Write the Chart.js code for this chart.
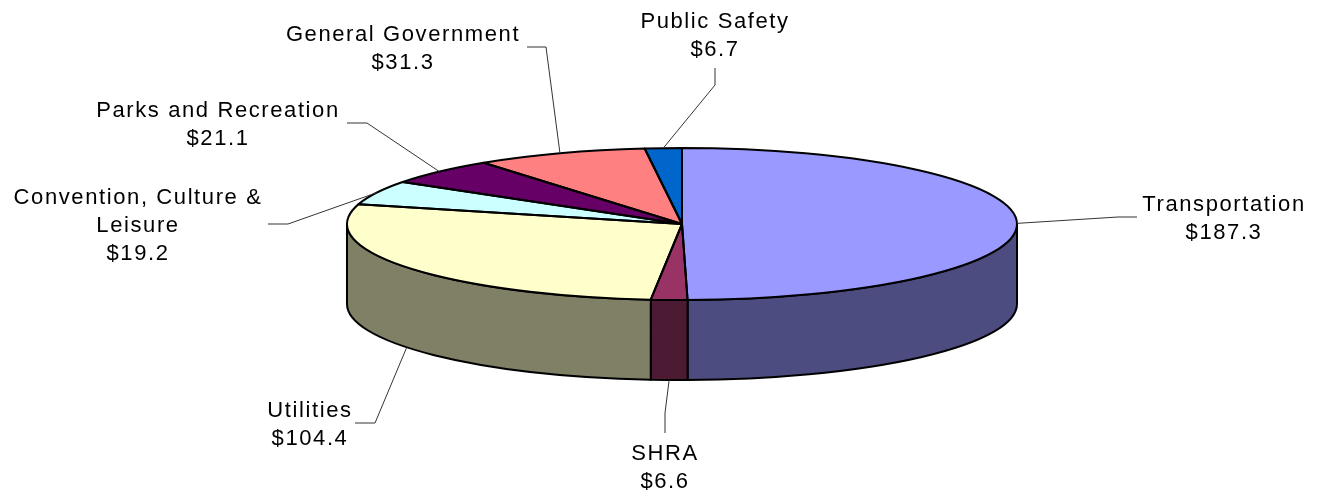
<!DOCTYPE html>
<html>
<head>
<meta charset="utf-8">
<script src="https://cdn.jsdelivr.net/npm/chart.js@4.4.0/dist/chart.umd.min.js"></script>
<style>
  html, body { margin: 0; padding: 0; background: #fff; }
  #wrap { width: 1321px; height: 492px; position: relative; }
</style>
</head>
<body>
<div id="wrap"><canvas id="pizza" width="1321" height="492"></canvas></div>
<script>
// dados (milhoes)
const categorias = ['Transportation', 'SHRA', 'Utilities', 'Convention, Culture & Leisure',
  'Parks and Recreation', 'General Government', 'Public Safety'];
const valores = [187.3, 6.6, 104.4, 19.2, 21.1, 31.3, 6.7];
const coresTopo = ['#9999FF', '#993366', '#FFFFCC', '#CCFFFF', '#660066', '#FF8080', '#0066CC'];
const coresLado = ['#4C4C80', '#4D1A33', '#808066', '#668080', '#330033', '#804040', '#003366'];

// elipse do "3D"
const centroX = 682, centroY = 224, raioX = 335, raioY = 76, profundidade = 80;

// onde vai cada rotulo (texto centralizado, primeira linha) e a linha guia
const posRotulos = [
  {tx: 1224, ty: 211, cotovelo: [1118, 217], fim: [1137, 217]},
  {tx: 665, ty: 460, cotovelo: [665, 413], fim: [665, 433]},
  {tx: 310, ty: 417, cotovelo: [375, 423], fim: [355, 423]},
  {tx: 138, ty: 204, cotovelo: [288, 224], fim: [268, 224]},
  {tx: 218, ty: 117, cotovelo: [367, 123], fim: [347, 123]},
  {tx: 403, ty: 41, cotovelo: [546, 47], fim: [527, 47]},
  {tx: 715, ty: 28, cotovelo: [715, 85], fim: [715, 68]}
];

const fonteRotulo = '22px "Liberation Sans", Arial, sans-serif';
const alturaLinha = 28;

function quebraTexto(ctx, texto, larguraMax) {
  let palavras = texto.split(' ');
  let linhas = [];
  let atual = '';
  for (let p of palavras) {
    let teste = atual ? atual + ' ' + p : p;
    if (ctx.measureText(teste).width > larguraMax && atual) {
      linhas.push(atual);
      atual = p;
    } else {
      atual = teste;
    }
  }
  linhas.push(atual);
  return linhas;
}

// angulo do chart.js -> ponto na elipse
function pontoElipse(ang, dy) {
  return [centroX + raioX * Math.cos(ang), centroY + raioY * Math.sin(ang) + (dy || 0)];
}

const pizza3d = {
  id: 'pizza3d',
  beforeDatasetsDraw(chart) {
    const ctx = chart.ctx;
    const arcos = chart.getDatasetMeta(0).data;
    // paredes laterais (so a metade da frente, angulo 0..PI)
    ctx.save();
    ctx.lineWidth = 2;
    ctx.strokeStyle = '#000';
    ctx.lineJoin = 'round';
    arcos.forEach((a, i) => {
      let ini = Math.max(a.startAngle, 0);
      let fim = Math.min(a.endAngle, Math.PI);
      if (fim <= ini) return;
      ctx.beginPath();
      ctx.ellipse(centroX, centroY, raioX, raioY, 0, ini, fim, false);
      let pf = pontoElipse(fim, profundidade);
      ctx.lineTo(pf[0], pf[1]);
      ctx.ellipse(centroX, centroY + profundidade, raioX, raioY, 0, fim, ini, true);
      ctx.closePath();
      ctx.fillStyle = coresLado[i];
      ctx.fill();
      ctx.stroke();
    });
    ctx.restore();

    // achata a pizza do chart.js na elipse
    const a0 = arcos[0];
    const R = a0.outerRadius;
    ctx.save();
    ctx.translate(centroX, centroY);
    ctx.scale(raioX / R, raioY / R);
    ctx.translate(-a0.x, -a0.y);
  },
  afterDatasetsDraw(chart) {
    const ctx = chart.ctx;
    ctx.restore();
    const arcos = chart.getDatasetMeta(0).data;

    // contornos do topo
    ctx.save();
    ctx.lineWidth = 2;
    ctx.strokeStyle = '#000';
    ctx.lineJoin = 'round';
    arcos.forEach(a => {
      ctx.beginPath();
      ctx.moveTo(centroX, centroY);
      ctx.ellipse(centroX, centroY, raioX, raioY, 0, a.startAngle, a.endAngle, false);
      ctx.closePath();
      ctx.stroke();
    });
    ctx.restore();

    // linhas guia e rotulos
    ctx.save();
    ctx.font = fonteRotulo;
    ctx.letterSpacing = '1.6px';
    ctx.textAlign = 'center';
    ctx.textBaseline = 'alphabetic';
    arcos.forEach((a, i) => {
      let meio = (a.startAngle + a.endAngle) / 2;
      let frente = Math.sin(meio) > 0.05;
      let p0 = pontoElipse(meio, frente ? profundidade : 0);
      let pos = posRotulos[i];
      ctx.beginPath();
      ctx.moveTo(p0[0], p0[1]);
      ctx.lineTo(pos.cotovelo[0], pos.cotovelo[1]);
      ctx.lineTo(pos.fim[0], pos.fim[1]);
      ctx.strokeStyle = '#333';
      ctx.lineWidth = 1;
      ctx.stroke();

      let linhas = quebraTexto(ctx, categorias[i], 265);
      linhas.push('$' + valores[i].toFixed(1));
      ctx.fillStyle = '#000';
      linhas.forEach((l, k) => {
        ctx.fillText(l, pos.tx, pos.ty + k * alturaLinha);
      });
    });
    ctx.restore();
  }
};

new Chart(document.getElementById('pizza'), {
  type: 'pie',
  data: {
    labels: categorias,
    datasets: [{
      data: valores,
      backgroundColor: coresTopo,
      borderWidth: 0
    }]
  },
  options: {
    responsive: false,
    animation: false,
    events: [],
    layout: {padding: {left: 300, right: 257, top: 40, bottom: 84}},
    plugins: {
      legend: {display: false},
      tooltip: {enabled: false}
    }
  },
  plugins: [pizza3d]
});
</script>
</body>
</html>
